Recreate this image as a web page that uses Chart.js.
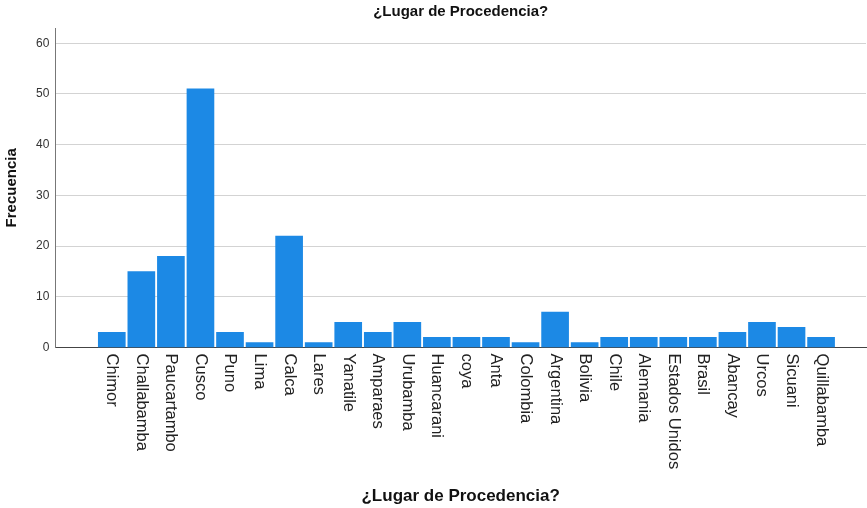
<!DOCTYPE html>
<html>
<head>
<meta charset="utf-8">
<script src="https://cdn.jsdelivr.net/npm/chart.js@4/dist/chart.umd.min.js"></script>
<style>
  body { margin: 0; background: #fff; }
  #wrap { width: 867px; height: 508px; position: relative; }
</style>
</head>
<body>
<div id="wrap"><canvas id="myChart"></canvas></div>
<script>
const titleText = "¿Lugar de Procedencia?"
const lugares = ["Chimor", "Challabamba", "Paucartambo", "Cusco", "Puno", "Lima", "Calca", "Lares",
  "Yanatile", "Amparaes", "Urubamba", "Huancarani", "coya", "Anta", "Colombia", "Argentina",
  "Bolivia", "Chile", "Alemania", "Estados Unidos", "Brasil", "Abancay", "Urcos", "Sicuani", "Quillabamba"]
const frecuencias = [3, 15, 18, 51, 3, 1, 22, 1, 5, 3, 5, 2, 2, 2, 1, 7, 1, 2, 2, 2, 2, 3, 5, 4, 2]
const yTicks = [0, 10, 20, 30, 40, 50, 60]

const fontFam = "'Liberation Sans', Arial, sans-serif"

// bars placed on a numeric x axis so the SPSS-like side gaps can be kept
const points = lugares.map((l, i) => ({ x: i, y: frecuencias[i] }))

// tick labels read top-to-bottom, which Chart.js doesn't do by itself
const downLabels = {
  id: "downLabels",
  afterDraw(chart) {
    const ctx = chart.ctx
    const xs = chart.scales.x
    ctx.save()
    ctx.font = "16.5px " + fontFam
    ctx.fillStyle = "#222"
    ctx.textAlign = "left"
    ctx.textBaseline = "middle"
    lugares.forEach((l, i) => {
      ctx.save()
      ctx.translate(xs.getPixelForValue(i), xs.top + 6)
      ctx.rotate(Math.PI / 2)
      ctx.fillText(l, 0, 0)
      ctx.restore()
    })
    ctx.restore()
  }
}

new Chart("myChart", {
  type: "bar",
  data: {
    datasets: [{
      data: points,
      backgroundColor: "#1c89e5",
      barThickness: 27
    }]
  },
  options: {
    responsive: true,
    maintainAspectRatio: false,
    animation: false,
    layout: { padding: { left: 0, right: 1, top: 0, bottom: 0 } },
    plugins: {
      legend: { display: false },
      tooltip: { enabled: false },
      title: {
        display: true,
        fullSize: false,
        text: titleText,
        color: "#111",
        font: { family: fontFam, size: 15, weight: "bold" },
        padding: { top: 3, bottom: 7 }
      }
    },
    scales: {
      x: {
        type: "linear",
        offset: false,
        min: -1.91,
        max: 25.52,
        grid: { display: false, drawTicks: false },
        border: { display: true, color: "#444", width: 1 },
        ticks: { display: false },
        title: {
          display: true,
          text: titleText,
          color: "#111",
          font: { family: fontFam, size: 17, weight: "bold" },
          padding: { top: 139, bottom: 1 }
        }
      },
      y: {
        min: 0,
        max: 63,
        afterBuildTicks(scale) {
          scale.ticks = yTicks.map(v => ({ value: v }))
        },
        grid: { color: "#d3d3d3", drawTicks: false },
        border: { color: "#777" },
        ticks: {
          padding: 6,
          color: "#333",
          font: { family: fontFam, size: 12 }
        },
        title: {
          display: true,
          text: "Frecuencia",
          color: "#111",
          font: { family: fontFam, size: 15, weight: "bold" },
          padding: { top: 3, bottom: 9 }
        }
      }
    }
  },
  plugins: [downLabels]
});
</script>
</body>
</html>
